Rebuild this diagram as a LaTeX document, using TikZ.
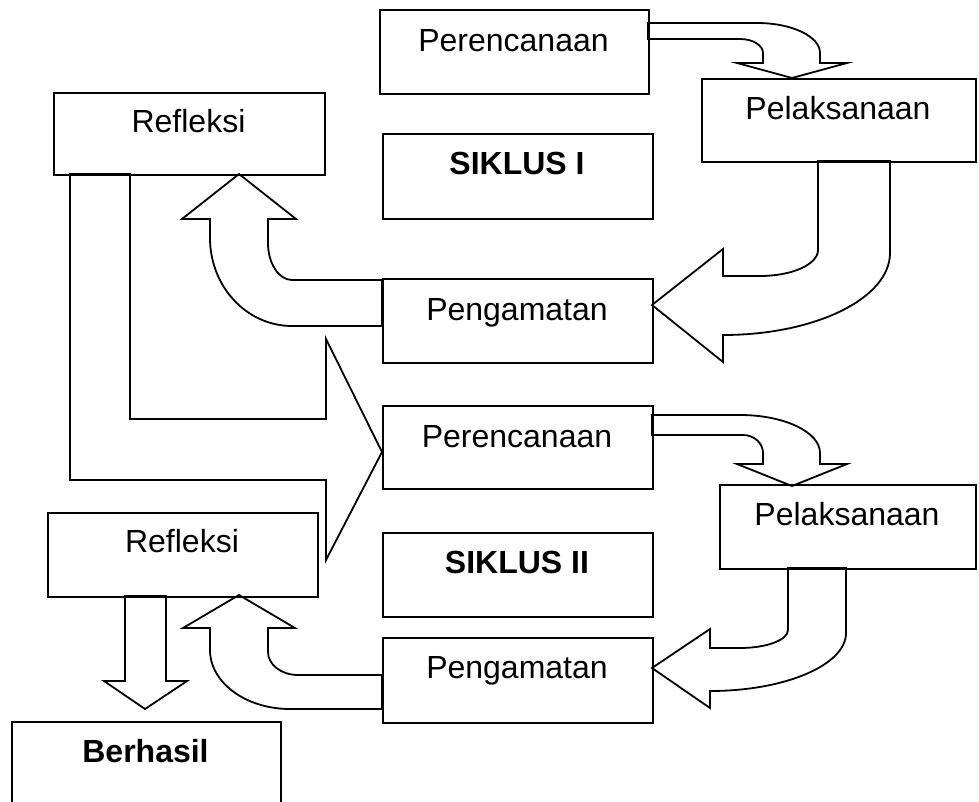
\documentclass[tikz,border=0pt]{standalone}
\usepackage{fontspec}
\setmainfont{Liberation Sans}
\begin{document}
\begin{tikzpicture}[x=1pt,y=-1pt,
  box/.style={draw, line width=1.8pt, rectangle, anchor=north west, inner sep=0pt},
  txt/.style={anchor=base, inner sep=0pt, font=\fontsize{32}{38}\selectfont},
  btxt/.style={txt, font=\fontsize{32}{38}\selectfont\bfseries},
  barrow/.style={draw, line width=1.8pt, fill=white, line join=miter}]
\clip (0,0) rectangle (979,802);
\fill[white] (0,0) rectangle (979,802);

% block arrows
% Perencanaan I -> Pelaksanaan I
\path[barrow] (648,23) -- (757,23) .. controls (791.8,23) and (820,36.4) .. (820,53)
  -- (820,63) -- (847,63) -- (792,78) -- (737,63) -- (763,63) -- (763,53)
  .. controls (763,45.3) and (752.7,39) .. (740,39) -- (648,39) -- cycle;
% Pelaksanaan I -> Pengamatan I
\path[barrow] (818,161) -- (818,250) .. controls (818,264.4) and (792,276) .. (760,276)
  -- (723,276) -- (723,249) -- (652,305) -- (723,362) -- (723,335)
  .. controls (815.2,335) and (890,298.3) .. (890,253) -- (890,161) -- cycle;
% Pengamatan I -> Refleksi I
\path[barrow] (382,280) -- (292,280) .. controls (278.8,280) and (268,263.4) .. (268,243)
  -- (268,219) -- (296,219) -- (239,174) -- (182,219) -- (210,219) -- (210,238)
  .. controls (210,286.6) and (246.7,326) .. (292,326) -- (382,326) -- cycle;
% Refleksi I -> Perencanaan II
\path[barrow] (70,174) -- (130,174) -- (130,419) -- (326,419) -- (326,339)
  -- (382,452) -- (326,560) -- (326,480) -- (70,480) -- cycle;
% Perencanaan II -> Pelaksanaan II
\path[barrow] (652,415) -- (740,415) .. controls (784.2,415) and (820,432) .. (820,453)
  -- (820,464) -- (847,464) -- (792,486) -- (737,464) -- (763,464) -- (763,453)
  .. controls (763,443.1) and (754,435) .. (743,435) -- (652,435) -- cycle;
% Pelaksanaan II -> Pengamatan II
\path[barrow] (788,568) -- (788,630) .. controls (788,640) and (766.5,648) .. (740,648)
  -- (710,648) -- (710,629) -- (652,668) -- (710,708) -- (710,691)
  .. controls (785,691) and (846,665) .. (846,633) -- (846,568) -- cycle;
% Pengamatan II -> Refleksi II
\path[barrow] (382,675) -- (298,675) .. controls (281.4,675) and (268,664.7) .. (268,652)
  -- (268,628) -- (295,628) -- (239,595) -- (183,628) -- (210,628) -- (210,650)
  .. controls (210,682.6) and (245.8,709) .. (290,709) -- (382,709) -- cycle;
% Refleksi II -> Berhasil
\path[barrow] (125,596) -- (166,596) -- (166,681) -- (187,681) -- (145,709)
  -- (104,681) -- (125,681) -- cycle;

% boxes
\node[box, minimum width=269pt, minimum height=84pt] (P1) at (379,9) {};
\node[box, minimum width=274pt, minimum height=83pt] (L1) at (701,78) {};
\node[box, minimum width=271pt, minimum height=82pt] (R1) at (53,92) {};
\node[box, minimum width=270pt, minimum height=85pt] (S1) at (382,133) {};
\node[box, minimum width=270pt, minimum height=84pt] (G1) at (382,278) {};
\node[box, minimum width=270pt, minimum height=83pt] (P2) at (382,405) {};
\node[box, minimum width=256pt, minimum height=84pt] (L2) at (719,484) {};
\node[box, minimum width=270pt, minimum height=84pt] (S2) at (382,532) {};
\node[box, minimum width=270pt, minimum height=85pt] (G2) at (382,637) {};
\node[box, minimum width=270pt, minimum height=84pt] (R2) at (47,512) {};
\node[box, minimum width=269pt, minimum height=100pt] (B) at (11,721) {};

% labels
\node[txt] (tP1) at (513.5,52) {Perencanaan};
\node[txt] (tL1) at (838,120) {Pelaksanaan};
\node[txt] (tR1) at (188.5,133) {Refleksi};
\node[btxt] (tS1) at (517,175) {SIKLUS I};
\node[txt] (tG1) at (517,320) {Pengamatan};
\node[txt] (tP2) at (517,447) {Perencanaan};
\node[txt] (tL2) at (847,525) {Pelaksanaan};
\node[btxt] (tS2) at (517,573) {SIKLUS II};
\node[txt] (tG2) at (517,678) {Pengamatan};
\node[txt] (tR2) at (182,552) {Refleksi};
\node[btxt] (tB) at (145.5,762) {Berhasil};
\end{tikzpicture}
\end{document}
